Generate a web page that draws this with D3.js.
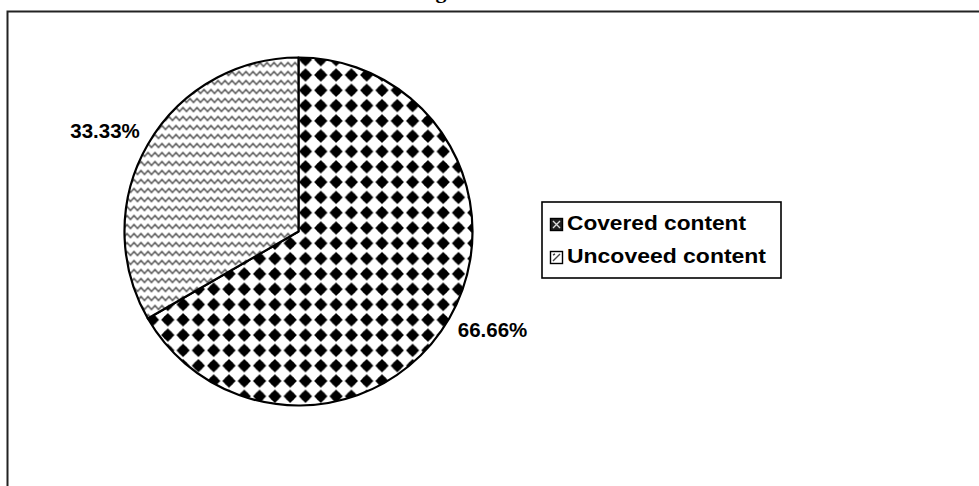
<!DOCTYPE html>
<html>
<head>
<meta charset="utf-8">
<script src="https://cdn.jsdelivr.net/npm/d3@7"></script>
<style>
  body { margin: 0; background: #fff; }
  svg { display: block; }
</style>
</head>
<body>
<div id="chart"></div>
<script>
// chart data
var categories = ["Covered content", "Uncoveed content"];
var values = [66.66, 33.33];
var valueLabels = ["66.66%", "33.33%"];
var patternIds = ["diamonds", "waves"];

var W = 979, H = 486;
var cx = 298.5, cy = 231.5, radius = 174;

var svg = d3.select("#chart").append("svg")
    .attr("width", W)
    .attr("height", H);

var defs = svg.append("defs");

// black diamond grid (covered)
var step = 15.3;
var pd = defs.append("pattern")
    .attr("id", "diamonds")
    .attr("width", step)
    .attr("height", step)
    .attr("patternUnits", "userSpaceOnUse")
    .attr("x", 313 - step / 2).attr("y", 73 - step / 2);
pd.append("rect").attr("width", step).attr("height", step).attr("fill", "#fff");
pd.append("path")
    .attr("d", "M7.65,1 L14.3,7.65 L7.65,14.3 L1,7.65 Z")
    .attr("fill", "#000");
pd.append("circle").attr("cx", 7.65).attr("cy", 7.65).attr("r", 4.6).attr("fill", "#000");

// zigzag lines (uncovered)
var pw = defs.append("pattern")
    .attr("id", "waves")
    .attr("width", 7)
    .attr("height", 9)
    .attr("patternUnits", "userSpaceOnUse");
pw.append("rect").attr("width", 7).attr("height", 9).attr("fill", "#fff");
pw.append("path")
    .attr("d", "M-1.75,4 L0,6 L3.5,2 L7,6 L8.75,4")
    .attr("fill", "none")
    .attr("stroke", "#444")
    .attr("stroke-width", 1.4);

// outer frame (runs off the page to the right and bottom)
svg.append("rect")
    .attr("x", 7.5).attr("y", 11.5)
    .attr("width", 1000).attr("height", 500)
    .attr("fill", "none")
    .attr("stroke", "#222")
    .attr("stroke-width", 2);

// title, mostly clipped by the page top
svg.append("text")
    .attr("x", 367).attr("y", -2.5)
    .attr("font-family", "Liberation Serif, Times New Roman, serif")
    .attr("font-weight", "bold")
    .attr("font-size", 22)
    .text("Coverage");

var pie = d3.pie().sort(null).value(function(d) { return d; });
var arcs = pie(values);
var arc = d3.arc().innerRadius(0).outerRadius(radius);

var g = svg.append("g").attr("transform", "translate(" + cx + "," + cy + ")");

g.selectAll("path.slice")
    .data(arcs)
    .enter().append("path")
    .attr("class", "slice")
    .attr("d", arc)
    .attr("fill", function(d, i) { return "url(#" + patternIds[i] + ")"; })
    .attr("stroke", "#000")
    .attr("stroke-width", 2.2)
    .attr("stroke-linejoin", "round");

// value labels outside the pie
var labelPos = [[492.5, 337], [105, 138]];
svg.selectAll("text.val")
    .data(arcs)
    .enter().append("text")
    .attr("class", "val")
    .attr("x", function(d, i) { return labelPos[i][0]; })
    .attr("y", function(d, i) { return labelPos[i][1]; })
    .attr("text-anchor", "middle")
    .attr("font-family", "Liberation Sans, Arial, sans-serif")
    .attr("font-weight", "bold")
    .attr("font-size", 20.5)
    .text(function(d, i) { return valueLabels[i]; });

// legend
var lg = svg.append("g").attr("transform", "translate(542,202)");
lg.append("rect")
    .attr("width", 239).attr("height", 76)
    .attr("fill", "#fff")
    .attr("stroke", "#000")
    .attr("stroke-width", 1.6);

var items = lg.selectAll("g.item")
    .data(categories)
    .enter().append("g")
    .attr("class", "item")
    .attr("transform", function(d, i) { return "translate(0," + (i * 33) + ")"; });

items.append("rect")
    .attr("x", 8.5).attr("y", 16.5)
    .attr("width", 12).attr("height", 12)
    .attr("fill", function(d, i) { return i === 0 ? "#222" : "#fff"; })
    .attr("stroke", "#000")
    .attr("stroke-width", 1.4);
items.append("path")
    .attr("d", function(d, i) {
      return i === 0 ? "M11,19 L18,26 M18,19 L11,26" : "M11,26 L18,19 M11,20 L13,19";
    })
    .attr("stroke", function(d, i) { return i === 0 ? "#ddd" : "#444"; })
    .attr("stroke-width", 1.4);

items.append("text")
    .attr("x", 25).attr("y", 28)
    .attr("font-family", "Liberation Sans, Arial, sans-serif")
    .attr("font-weight", "bold")
    .attr("font-size", 21)
    .attr("textLength", function(d, i) { return i === 0 ? 179 : 199; })
    .attr("lengthAdjust", "spacingAndGlyphs")
    .text(function(d) { return d; });
</script>
</body>
</html>
